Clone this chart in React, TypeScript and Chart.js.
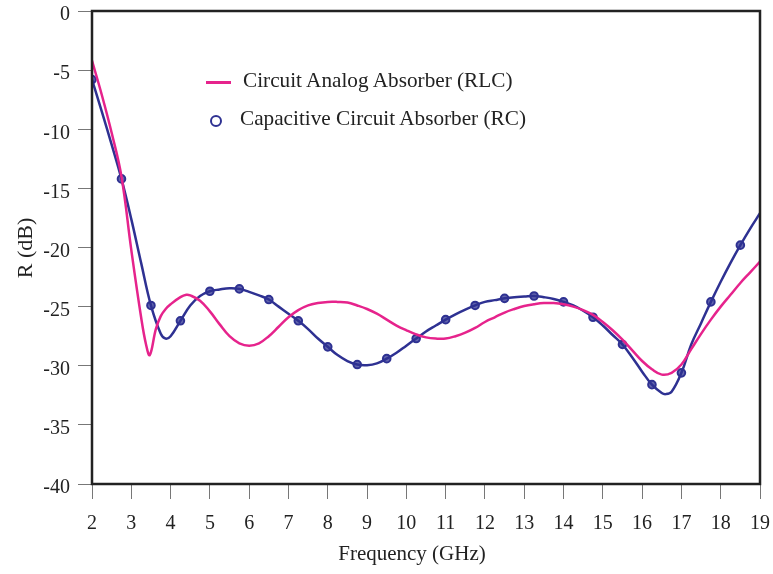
import React, { useEffect, useRef } from "react";
import { Chart, registerables } from "chart.js";

Chart.register(...registerables);

const pinkFreq = [2, 2.25, 2.5, 2.75, 3, 3.25, 3.375, 3.47, 3.625, 3.75, 3.875, 4, 4.25, 4.4, 4.5, 4.75, 5, 5.25, 5.5, 5.75, 6, 6.25, 6.5, 6.75, 7, 7.25, 7.5, 7.75, 8, 8.25, 8.5, 8.75, 9, 9.25, 9.5, 9.75, 10, 10.25, 10.5, 10.75, 11, 11.25, 11.5, 11.75, 12, 12.25, 12.5, 12.75, 13, 13.25, 13.5, 13.75, 14, 14.25, 14.5, 14.75, 15, 15.25, 15.5, 15.75, 16, 16.25, 16.5, 16.75, 17, 17.25, 17.5, 17.75, 18, 18.25, 18.5, 18.75, 19];
const pinkR = [-4.2, -7.1, -10.3, -14.0, -20.2, -25.9, -28.2, -29.1, -26.9, -25.8, -25.2, -24.8, -24.2, -24.0, -24.05, -24.5, -25.4, -26.5, -27.5, -28.1, -28.3, -28.1, -27.5, -26.7, -25.9, -25.3, -24.9, -24.7, -24.6, -24.6, -24.65, -24.9, -25.2, -25.6, -26.1, -26.6, -27.0, -27.35, -27.6, -27.7, -27.7, -27.5, -27.2, -26.8, -26.3, -25.9, -25.5, -25.2, -24.95, -24.8, -24.7, -24.7, -24.8, -25.0, -25.3, -25.7, -26.3, -27.0, -27.8, -28.7, -29.6, -30.3, -30.75, -30.6, -29.9, -28.6, -27.3, -26.1, -25.0, -24.0, -23.0, -22.1, -21.2];

const blueFreq = [2, 2.25, 2.5, 2.75, 3, 3.25, 3.5, 3.75, 3.87, 4, 4.25, 4.5, 4.75, 5, 5.25, 5.5, 5.75, 6, 6.25, 6.5, 6.75, 7, 7.25, 7.5, 7.75, 8, 8.25, 8.5, 8.75, 9, 9.25, 9.5, 9.75, 10, 10.25, 10.5, 10.75, 11, 11.25, 11.5, 11.75, 12, 12.25, 12.5, 12.75, 13, 13.25, 13.5, 13.75, 14, 14.25, 14.5, 14.75, 15, 15.25, 15.5, 15.75, 16, 16.25, 16.5, 16.6, 16.75, 17, 17.25, 17.5, 17.75, 18, 18.25, 18.5, 18.75, 19];
const blueR = [-5.8, -8.5, -11.3, -14.2, -17.6, -21.3, -24.9, -27.3, -27.7, -27.5, -26.2, -24.9, -24.1, -23.7, -23.55, -23.45, -23.5, -23.75, -24.05, -24.4, -25.0, -25.6, -26.2, -26.9, -27.7, -28.4, -29.1, -29.6, -29.9, -29.95, -29.8, -29.4, -28.9, -28.3, -27.7, -27.1, -26.6, -26.1, -25.65, -25.25, -24.9, -24.6, -24.45, -24.3, -24.2, -24.15, -24.1, -24.2, -24.35, -24.6, -24.9, -25.35, -25.9, -26.6, -27.4, -28.2, -29.3, -30.5, -31.6, -32.3, -32.4, -32.2, -30.6, -28.2, -26.4, -24.6, -22.9, -21.3, -19.8, -18.4, -17.1];

const markerFreq = [2, 2.75, 3.5, 4.25, 5, 5.75, 6.5, 7.25, 8, 8.75, 9.5, 10.25, 11, 11.75, 12.5, 13.25, 14, 14.75, 15.5, 16.25, 17, 17.75, 18.5];
const markerR = [-5.8, -14.2, -24.9, -26.2, -23.7, -23.5, -24.4, -26.2, -28.4, -29.9, -29.4, -27.7, -26.1, -24.9, -24.3, -24.1, -24.6, -25.9, -28.2, -31.6, -30.6, -24.6, -19.8];

const xTicks = [2, 3, 4, 5, 6, 7, 8, 9, 10, 11, 12, 13, 14, 15, 16, 17, 18, 19];
const yTicks = [0, -5, -10, -15, -20, -25, -30, -35, -40];

const PINK = "#E6238C";
const BLUE = "#2E3192";
const FONT = "'Liberation Serif', 'DejaVu Serif', serif";

const framePlugin = {
  id: "frame",
  afterDatasetsDraw(chart: any) {
    const { ctx, chartArea } = chart;
    ctx.save();
    ctx.strokeStyle = "#222";
    ctx.lineWidth = 2.5;
    ctx.strokeRect(chartArea.left, chartArea.top, chartArea.right - chartArea.left, chartArea.bottom - chartArea.top);
    ctx.restore();
  },
};

function zeroPad(s: any) {
  s.paddingTop = 0;
  s.paddingBottom = 0;
  s.paddingLeft = 0;
  s.paddingRight = 0;
}

export default function App() {
  const ref = useRef<HTMLCanvasElement>(null);
  useEffect(() => {
    if (!ref.current) return;
    const chart = new Chart(ref.current, {
      type: "line",
      data: {
        datasets: [
          {
            label: "Circuit Analog Absorber (RLC)",
            data: pinkFreq.map((f, i) => ({ x: f, y: pinkR[i] })),
            borderColor: PINK,
            borderWidth: 2.5,
            pointRadius: 0,
            tension: 0.4,
            fill: false,
          },
          {
            label: "RC line",
            data: blueFreq.map((f, i) => ({ x: f, y: blueR[i] })),
            borderColor: BLUE,
            borderWidth: 2.5,
            pointRadius: 0,
            tension: 0.4,
            fill: false,
          },
          {
            label: "Capacitive Circuit Absorber (RC)",
            data: markerFreq.map((f, i) => ({ x: f, y: markerR[i] })),
            showLine: false,
            borderColor: BLUE,
            backgroundColor: "rgba(46,49,146,0.75)",
            borderWidth: 2,
            pointRadius: 3.8,
          },
        ],
      },
      options: {
        animation: false,
        responsive: false,
        maintainAspectRatio: false,
        layout: { padding: { left: 0, top: 11, right: 13, bottom: 0 } },
        plugins: { legend: { display: false }, tooltip: { enabled: false } },
        scales: {
          x: {
            type: "linear",
            min: 2,
            max: 19,
            afterBuildTicks: (s: any) => {
              s.ticks = xTicks.map((v) => ({ value: v }));
            },
            afterFit: (s: any) => {
              s.height = 90;
              zeroPad(s);
            },
            grid: { drawOnChartArea: false, drawTicks: true, tickLength: 15, color: "#777", lineWidth: 1 },
            border: { display: false },
            ticks: { color: "#222", font: { family: FONT, size: 20 }, padding: 13, maxRotation: 0 },
            title: { display: false },
          },
          y: {
            type: "linear",
            min: -40,
            max: 0,
            afterBuildTicks: (s: any) => {
              s.ticks = yTicks.map((v) => ({ value: v }));
            },
            afterFit: (s: any) => {
              s.width = 92;
              zeroPad(s);
            },
            grid: { drawOnChartArea: false, drawTicks: true, tickLength: 14, color: "#777", lineWidth: 1 },
            border: { display: false },
            ticks: { color: "#222", font: { family: FONT, size: 20 }, padding: 8, labelOffset: 4 },
            title: { display: false },
          },
        },
      },
      plugins: [framePlugin],
    } as any);
    return () => chart.destroy();
  }, []);

  const textStyle: React.CSSProperties = {
    position: "absolute",
    fontFamily: FONT,
    fontSize: 22,
    lineHeight: "26px",
    color: "#222",
    whiteSpace: "nowrap",
    transformOrigin: "left center",
    transform: "scaleX(0.965)",
  };

  return (
    <div style={{ position: "fixed", left: 0, top: 0, width: 773, height: 574, background: "#fff" }}>
      <canvas ref={ref} width={773} height={574} style={{ display: "block" }} />
      <span style={{ position: "absolute", left: 206, top: 81, width: 25, height: 2.5, background: PINK }} />
      <span style={{ ...textStyle, left: 243, top: 67 }}>Circuit Analog Absorber (RLC)</span>
      <span style={{ position: "absolute", left: 210, top: 115, width: 12, height: 12, borderRadius: "50%", border: `2.5px solid ${BLUE}`, boxSizing: "border-box" }} />
      <span style={{ ...textStyle, left: 240, top: 105 }}>Capacitive Circuit Absorber (RC)</span>
      <div style={{ position: "absolute", left: 312, width: 200, top: 540, textAlign: "center", fontFamily: FONT, fontSize: 21, lineHeight: "26px", color: "#222", whiteSpace: "nowrap" }}>
        Frequency (GHz)
      </div>
      <div style={{ position: "absolute", left: 25 - 50, width: 100, top: 248 - 13, textAlign: "center", fontFamily: FONT, fontSize: 22, lineHeight: "26px", color: "#222", whiteSpace: "nowrap", transform: "rotate(-90deg)" }}>
        R (dB)
      </div>
    </div>
  );
}
